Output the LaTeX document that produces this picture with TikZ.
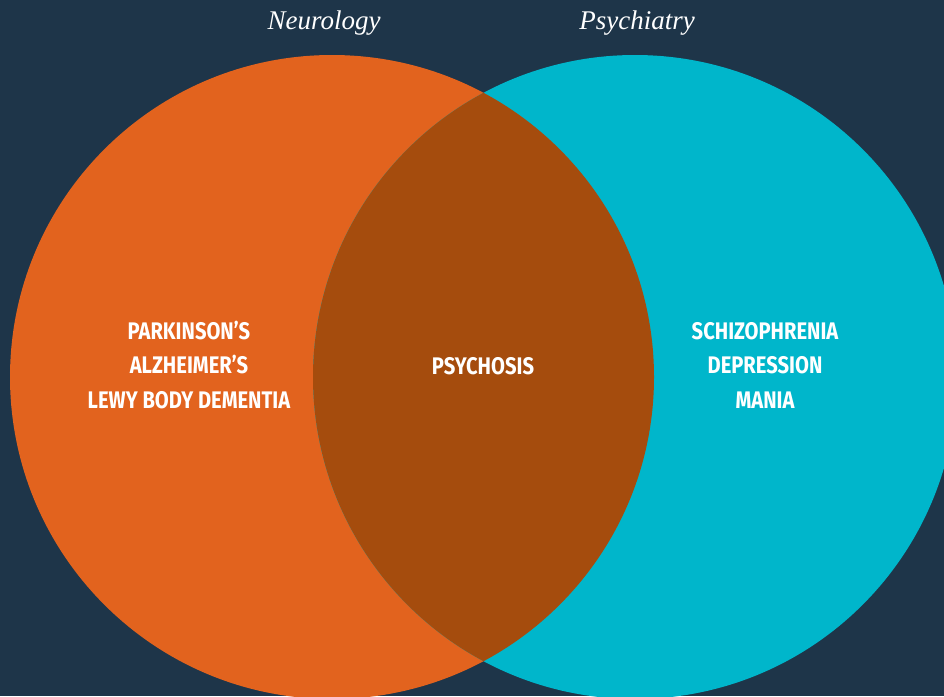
\documentclass[tikz,border=0pt]{standalone}
\usepackage{fontspec}
\setmainfont{Liberation Serif}
\newfontfamily\labfont[FakeStretch=0.84]{Fira Sans}
\definecolor{bgnavy}{HTML}{1E3549}
\definecolor{neuro}{HTML}{E2631E}
\definecolor{psych}{HTML}{00B6CB}
\definecolor{lens}{HTML}{A54C0D}
\tikzset{
  caplabel/.style={text=white, font=\labfont\bfseries\fontsize{24}{34.5}\selectfont, align=center, inner sep=0pt},
  titlelabel/.style={text=white, font=\itshape\fontsize{27}{30}\selectfont, inner sep=0pt}
}
\begin{document}
\begin{tikzpicture}[x=1pt,y=-1pt]
\fill[bgnavy] (0,0) rectangle (944,696);
\useasboundingbox (0,0) rectangle (944,696);
\fill[neuro] (332,377) circle (322);
\fill[psych] (635,377) circle (322);
\begin{scope}
  \clip (332,377) circle (322);
  \fill[lens] (635,377) circle (322);
\end{scope}
\node[titlelabel] (tn) at (324,23) {Neurology};
\node[titlelabel] (tp) at (637,23) {Psychiatry};
\node[caplabel] (ln) at (189,365) {PARKINSON’S\\ALZHEIMER’S\\LEWY BODY DEMENTIA};
\node[caplabel] (mid) at (483,366) {PSYCHOSIS};
\node[caplabel] (rn) at (765,365) {SCHIZOPHRENIA\\DEPRESSION\\MANIA};
\end{tikzpicture}
\end{document}
